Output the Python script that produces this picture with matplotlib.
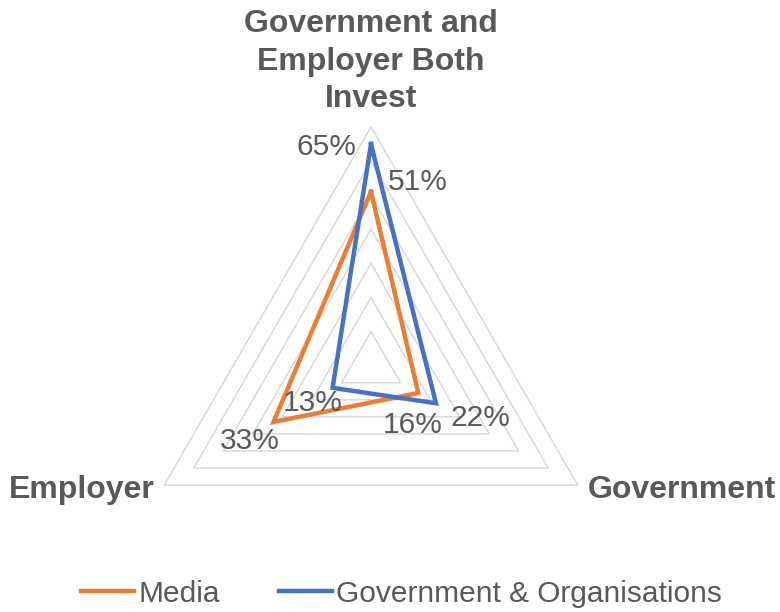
import numpy as np
import matplotlib.pyplot as plt

plt.rcParams['font.family'] = ['Liberation Sans', 'DejaVu Sans']

# Survey data: who should invest
categories = ["Government and\nEmployer Both\nInvest", "Government", "Employer"]
media = [0.51, 0.16, 0.33]
gov_orgs = [0.65, 0.22, 0.13]
series_names = ["Media", "Government & Organisations"]
colors = ["#ED7D31", "#4472C4"]
rmax = 0.7
ring_step = 0.1

# label offsets (points) for each series, per category
label_offsets = {
    "Media": [(34, 7), (-4, -23), (-17, -14)],
    "Government & Organisations": [(-32, -2), (32, -11), (-14, -11)],
}

# spoke angles: top, bottom-right, bottom-left
angles = np.deg2rad([90, -30, 210])


def to_xy(values):
    v = np.asarray(values)
    return v * np.cos(angles), v * np.sin(angles)


fig = plt.figure(figsize=(7.8, 6.12), dpi=100)
ax = fig.add_axes([0, 0, 1, 1])
scale = 238.7 / rmax  # pixels per unit
ax.set_xlim(-371 / scale, (780 - 371) / scale)
ax.set_ylim(-(612 - 365.7) / scale, 365.7 / scale)
ax.axis("off")

# triangular grid rings
for r in np.arange(ring_step, rmax + 1e-9, ring_step):
    gx, gy = to_xy([r, r, r])
    ax.plot(np.append(gx, gx[0]), np.append(gy, gy[0]), color="#D9D9D9", lw=1.1, zorder=1)

# series
for name, vals, col in zip(series_names, [media, gov_orgs], colors):
    x, y = to_xy(vals)
    ax.plot(np.append(x, x[0]), np.append(y, y[0]), color=col, lw=3.2,
            solid_joinstyle="miter", label=name, zorder=3)
    for xi, yi, v, off in zip(x, y, vals, label_offsets[name]):
        ax.annotate(f"{v:.0%}", (xi, yi), xytext=off, textcoords="offset points",
                    ha="center", va="center", fontsize=21.5, color="#595959", zorder=4)

# category labels
ax.text(0, 304 / scale, categories[0], ha="center", va="center", fontsize=23,
        fontweight="bold", color="#595959", linespacing=1.32)
ax.text(217 / scale, -124 / scale, categories[1], ha="left", va="center",
        fontsize=23, fontweight="bold", color="#595959")
ax.text(-216 / scale, -124 / scale, categories[2], ha="right", va="center",
        fontsize=23, fontweight="bold", color="#595959")

leg = fig.legend(loc="lower center", bbox_to_anchor=(0.515, -0.037), ncol=2,
                 frameon=False, fontsize=21.5, handlelength=1.75, handletextpad=0.15,
                 columnspacing=2.0)
for t in leg.get_texts():
    t.set_color("#595959")

fig.savefig("out.png", dpi=100)
